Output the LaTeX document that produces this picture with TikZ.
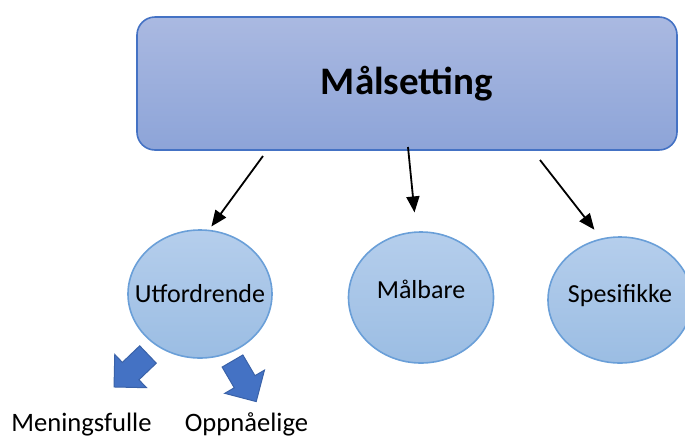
\documentclass[tikz,border=0pt]{standalone}
\usepackage{fontspec}
\setmainfont{Carlito}
\usepackage{tikz}
\usetikzlibrary{arrows.meta,positioning,shapes.geometric}

\definecolor{goaltop}{HTML}{AAB9E1}
\definecolor{goalbot}{HTML}{8DA4D8}
\definecolor{goalline}{HTML}{4472C4}
\definecolor{bubtop}{HTML}{B5CEEC}
\definecolor{bubbot}{HTML}{9BBDE3}
\definecolor{bubline}{HTML}{6A9FD8}
\definecolor{blockfill}{HTML}{4472C4}
\definecolor{blockline}{HTML}{3A62A8}

\tikzset{
  pics/blockarrow/.style={code={
    \filldraw[fill=blockfill,draw=blockline,line width=0.5pt,line join=miter]
    (0,12) -- (24,12) -- (24,23) -- (47,0) -- (24,-23) -- (24,-12) -- (0,-12) -- cycle;
  }}
}

\begin{document}
\begin{tikzpicture}[x=0.5pt,y=0.5pt,
    goalbox/.style={rectangle, rounded corners=9pt, draw=goalline, line width=0.8pt,
      top color=goaltop, bottom color=goalbot,
      minimum width=270pt, minimum height=66.5pt,
      font=\fontsize{19.5}{23}\selectfont\bfseries},
    bubble/.style={ellipse, draw=bubline, line width=0.8pt,
      top color=bubtop, bottom color=bubbot,
      inner sep=0pt, minimum width=72pt, minimum height=64pt},
    bubbletext/.style={font=\fontsize{13}{15}\selectfont},
    pointer/.style={-{Triangle[length=8pt,width=6.5pt]}, line width=0.9pt},
    subgoal/.style={font=\fontsize{13.3}{15}\selectfont, anchor=base}]

	\useasboundingbox (0,0) rectangle (685,436);
	
	\node[goalbox] (goal) at (407,352.5) {Målsetting};
	
	\node[bubble, label={[bubbletext]center:Utfordrende}]
	(u) at (200,142) {};
	
	\node[bubble, minimum width=72.5pt, minimum height=65.5pt,
	  label={[bubbletext, yshift=4pt]center:Målbare}]
	(m) at (421,138.5) {};
	
	\node[bubble, minimum height=63pt,
	  label={[bubbletext, yshift=2pt]center:Spesifikke}]
	(s) at (620,136) {};
	
	\coordinate (from u) at (263,280);
	\coordinate (from m) at (408,289);
	\coordinate (from s) at (540,276);
	
	\draw[pointer, shorten >=2pt] (from u) -- (u.82);
	\draw[pointer, shorten >=9.5pt] (from m) -- (m.94);
	\draw[pointer, shorten >=5.5pt] (from s) -- (s.107);
	
	% small block arrows under Utfordrende
	\pic[rotate=223.7] at (148,81.5) {blockarrow};
	\pic[rotate=-59.7] at (232.5,75) {blockarrow};
	
	\node[subgoal] (meaning) at (81.5,4.5) {Meningsfulle};
	\node[subgoal] (reach) at (246.5,4.5) {Oppnåelige};
	
\end{tikzpicture}
\end{document}
